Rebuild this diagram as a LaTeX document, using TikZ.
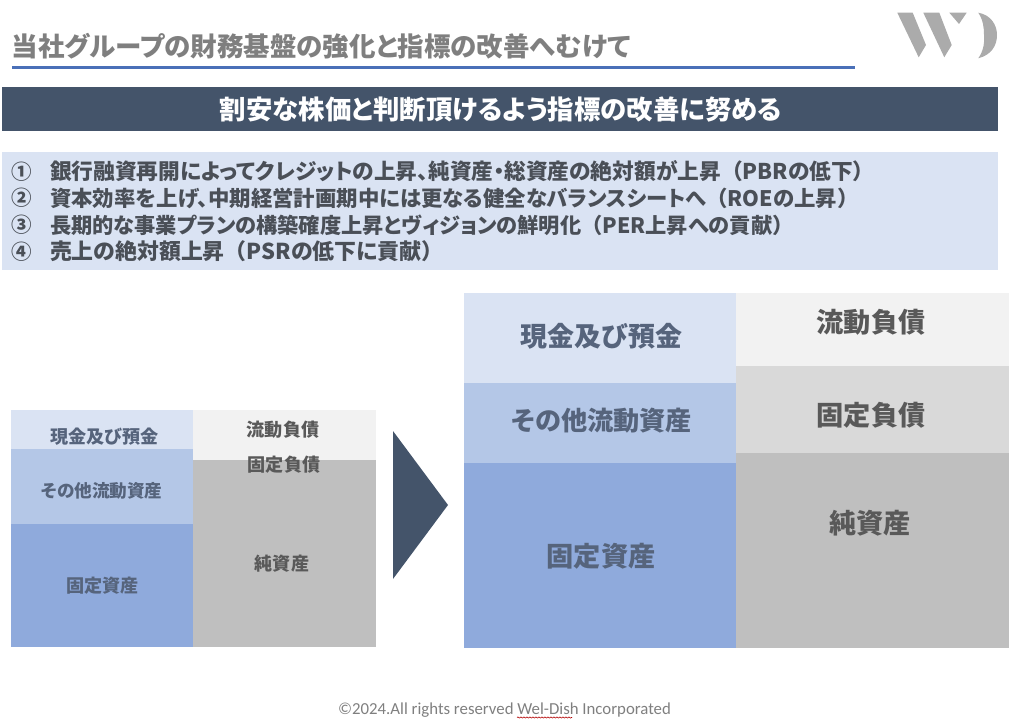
\documentclass[tikz,border=0pt]{standalone}
\usepackage{fontspec}
\newfontfamily\jp{Noto Sans CJK JP}
\newfontfamily\jpp{Noto Sans CJK JP}[RawFeature=+palt]
\newfontfamily\foot{Carlito}
\usetikzlibrary{decorations.pathmorphing}
\definecolor{navy}{HTML}{44546A}
\definecolor{rule}{HTML}{4A70B8}
\definecolor{pale}{HTML}{DAE3F3}
\definecolor{mid}{HTML}{B4C7E7}
\definecolor{deep}{HTML}{8FAADC}
\definecolor{gA}{HTML}{F2F2F2}
\definecolor{gB}{HTML}{D9D9D9}
\definecolor{gC}{HTML}{BFBFBF}
\definecolor{ink}{HTML}{4A4F57}
\definecolor{inkb}{HTML}{56647C}
\definecolor{inkg}{HTML}{595959}
\definecolor{titleg}{HTML}{7F7F7F}
\definecolor{logog}{HTML}{ABABAB}
\newcommand{\fb}[1]{{\jp #1}}
\tikzset{
  x=1pt,y=-1pt,
  txt/.style={inner sep=0pt,outer sep=0pt,font=\jp\bfseries},
  item/.style={txt,anchor=west,text=ink,font=\jpp\bfseries\fontsize{#1}{24}\selectfont},
  numitem/.style={txt,anchor=west,text=ink,font=\jp\bfseries\fontsize{20.5}{24}\selectfont},
  bigb/.style={txt,text=inkb,font=\jpp\bfseries\fontsize{#1}{30}\selectfont},
  bigg/.style={txt,text=inkg,font=\jpp\bfseries\fontsize{27.2}{30}\selectfont},
  smallb/.style={txt,text=inkb,font=\jpp\bfseries\fontsize{#1}{20}\selectfont},
  smallg/.style={txt,text=inkg,font=\jpp\bfseries\fontsize{18.1}{20}\selectfont},
}
\begin{document}
\begin{tikzpicture}
\useasboundingbox (0,0) rectangle (1015,722);
% logo
\fill[logog] (897.3,12.7) -- (912.7,12.7) -- (926,45) -- (918.7,57.3) -- cycle;
\fill[logog] (923.3,12.7) -- (939.3,12.7) -- (951.7,45) -- (944.3,57.3) -- cycle;
\fill[logog] (949.3,12.7) -- (966.7,12.7) -- (959,24) -- cycle;
\fill[logog] (978.3,12.7) .. controls (991,15) and (997,25) .. (997,35) .. controls (997,46) and (991,55) .. (978.3,58.3) .. controls (984,50) and (984.5,42) .. (984,35) .. controls (984,27) and (983,20) .. (978.3,12.7) -- cycle;
% title
\node[txt,anchor=west,text=titleg,font=\jpp\bfseries\fontsize{26.5}{30}\selectfont] (title) at (12,46) {当社グループの財務基盤の強化と指標の改善へむけて};
\fill[rule] (12,66) rectangle (855,69);
% banner
\fill[navy] (2,87) rectangle (998,131);
\node[txt,text=white,font=\jpp\bfseries\fontsize{26.4}{30}\selectfont] (banner) at (501,109.5) {割安な株価と判断頂けるよう指標の改善に努める};
% list
\fill[pale] (2,152) rectangle (998,270);
\node[numitem] (n1) at (12,171.5) {①};
\node[numitem] (n2) at (12,198) {②};
\node[numitem] (n3) at (12,225) {③};
\node[numitem] (n4) at (12,251.5) {④};
\node[item=21.7] (l1) at (50,171.5) {銀行融資再開によってクレジットの上昇、純資産・総資産の絶対額が上昇\fb{（}PBRの低下\fb{）}};
\node[item=21.4] (l2) at (50,198) {資本効率を上げ、中期経営計画期中には更なる健全なバランスシートへ\fb{（}ROEの上昇\fb{）}};
\node[item=21.25] (l3) at (50,225) {長期的な事業プランの構築確度上昇とヴィジョンの鮮明化\fb{（}PER上昇への貢献\fb{）}};
\node[item=21.9] (l4) at (50,251.5) {売上の絶対額上昇\fb{（}PSRの低下に貢献\fb{）}};
% small balance sheet
\fill[pale] (11,410) rectangle (193,449);
\fill[mid] (11,449) rectangle (193,524);
\fill[deep] (11,524) rectangle (193,647);
\fill[gA] (193,410) rectangle (376,460);
\fill[gC] (193,460) rectangle (376,647);
\node[smallb=18.1] (s1) at (104.5,437) {現金及び預金};
\node[smallb=17.6] (s2) at (102,490.5) {その他流動資産};
\node[smallb=18.1] (s3) at (102.5,585.5) {固定資産};
\node[smallg] (s4) at (283,429.5) {流動負債};
\node[smallg] (s5) at (284,465) {固定負債};
\node[smallg] (s6) at (282,564) {純資産};
% arrow
\fill[navy] (393,431) -- (448,505) -- (393,579) -- cycle;
% large balance sheet
\fill[pale] (464,293) rectangle (736,383);
\fill[mid] (464,383) rectangle (736,463);
\fill[deep] (464,463) rectangle (736,648);
\fill[gA] (736,293) rectangle (1009,366);
\fill[gB] (736,366) rectangle (1009,453);
\fill[gC] (736,453) rectangle (1009,648);
\node[bigb=27] (b1) at (601.5,336) {現金及び預金};
\node[bigb=26.2] (b2) at (602,421) {その他流動資産};
\node[bigb=27.2] (b3) at (601,556) {固定資産};
\node[bigg] (b4) at (871,322) {流動負債};
\node[bigg] (b5) at (871,415) {固定負債};
\node[bigg] (b6) at (870,523) {純資産};
% footer
\node[txt,font=\foot\fontsize{16.8}{20}\selectfont,text=titleg] (foot) at (504.5,710) {©2024.All rights reserved Wel-Dish Incorporated};
\draw[red!70!black,line width=0.6pt,decorate,decoration={snake,amplitude=0.6pt,segment length=3pt}] (517,717.5) -- (572,717.5);
\end{tikzpicture}
\end{document}
